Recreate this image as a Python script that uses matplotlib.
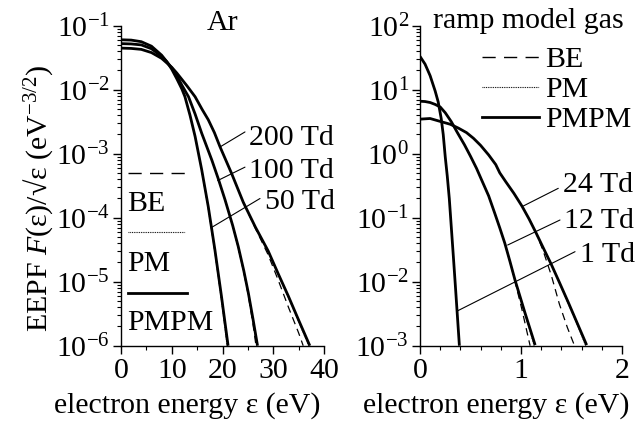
import numpy as np
import matplotlib
matplotlib.use('Agg')
import matplotlib.pyplot as plt
from matplotlib.lines import Line2D
from matplotlib.ticker import LogLocator, MultipleLocator, NullFormatter

plt.rcParams['font.family'] = ['Liberation Serif', 'DejaVu Serif']
plt.rcParams['mathtext.fontset'] = 'custom'
plt.rcParams['mathtext.rm'] = 'Liberation Serif'
plt.rcParams['mathtext.it'] = 'Liberation Serif:italic'
plt.rcParams['font.size'] = 21.5

# ---- Ar : energy (eV) and log10 of EEPF (eV^-3/2) ----
ar50_e  = [0, 2, 4, 6, 8, 9, 10, 11, 12, 12.6, 13.6, 14.6, 15.9, 17.2, 18.5, 19.8, 21.1]
ar50_lg = [-1.22, -1.225, -1.25, -1.32, -1.46, -1.56, -1.68, -1.83, -1.99, -2.11, -2.40,
           -2.73, -3.25, -3.83, -4.50, -5.23, -6.0]
ar100_e  = [0, 2, 4, 6, 8, 9, 10, 11, 12, 13.3, 14.6, 15.9, 17.9, 19.2, 20.5, 22, 23.1,
            24.2, 25.1, 26, 26.9]
ar100_lg = [-1.28, -1.285, -1.30, -1.36, -1.48, -1.56, -1.66, -1.78, -1.93, -2.11, -2.38,
            -2.68, -3.10, -3.40, -3.72, -4.12, -4.45, -4.83, -5.18, -5.58, -6.0]
ar200_e  = [0, 2, 4, 6, 8, 10, 11, 12, 13, 14.6, 16, 17.2, 18.4, 19.5, 21.8, 24.1, 26.5,
            29, 31, 33, 35, 37.2]
ar200_lg = [-1.35, -1.355, -1.37, -1.42, -1.51, -1.65, -1.74, -1.84, -1.94, -2.11, -2.31,
            -2.47, -2.67, -2.89, -3.31, -3.76, -4.15, -4.52, -4.88, -5.23, -5.60, -6.0]
# BE tails (where they separate from PMPM)
ar50_be_e  = [15.9, 17.2, 18.5, 19.8, 21.0]
ar50_be_lg = [-3.25, -3.84, -4.52, -5.26, -6.0]
ar100_be_e  = [22, 23.1, 24.2, 25.1, 26, 26.6]
ar100_be_lg = [-4.12, -4.46, -4.85, -5.22, -5.66, -6.0]
ar200_be_e  = [24.1, 26.5, 29, 31, 33, 35, 35.9]
ar200_be_lg = [-3.76, -4.17, -4.58, -4.98, -5.40, -5.80, -6.0]
# PM tails
ar50_pm_e  = [15.9, 17.2, 18.5, 19.8, 20.9]
ar50_pm_lg = [-3.26, -3.86, -4.54, -5.30, -6.0]
ar100_pm_e  = [22, 23.1, 24.2, 25.1, 26, 26.8]
ar100_pm_lg = [-4.13, -4.47, -4.85, -5.20, -5.61, -6.0]
ar200_pm_e  = [24.1, 26.5, 29, 31, 33, 35, 37.0]
ar200_pm_lg = [-3.76, -4.15, -4.53, -4.89, -5.25, -5.62, -6.0]

# ---- ramp model gas ----
r1_e  = [0, 0.05, 0.1, 0.15, 0.18, 0.21, 0.23, 0.25, 0.27, 0.29, 0.31, 0.33, 0.35, 0.37, 0.39]
r1_lg = [1.52, 1.40, 1.22, 0.98, 0.81, 0.55, 0.30, -0.05, -0.35, -0.70, -1.15, -1.60,
         -2.06, -2.53, -3.0]
r12_e  = [0, 0.05, 0.1, 0.15, 0.2, 0.25, 0.31, 0.37, 0.44, 0.5, 0.56, 0.61, 0.68, 0.74,
          0.79, 0.84, 0.89, 0.94, 0.99, 1.04, 1.09, 1.14]
r12_lg = [0.82, 0.815, 0.80, 0.77, 0.73, 0.64, 0.50, 0.33, 0.14, -0.04, -0.23, -0.41,
          -0.66, -0.93, -1.16, -1.40, -1.68, -1.97, -2.23, -2.49, -2.74, -2.99]
r24_e  = [0, 0.05, 0.1, 0.21, 0.3, 0.38, 0.46, 0.53, 0.6, 0.68, 0.75, 0.79, 0.85, 0.93,
          1.01, 1.08, 1.15, 1.22, 1.30, 1.38, 1.47, 1.56, 1.65]
r24_lg = [0.54, 0.545, 0.55, 0.50, 0.46, 0.40, 0.33, 0.24, 0.13, -0.02, -0.17, -0.30,
          -0.44, -0.62, -0.82, -1.02, -1.24, -1.47, -1.73, -2.01, -2.33, -2.66, -2.99]
r12_be_e  = [0.84, 0.89, 0.94, 1.01, 1.05, 1.09]
r12_be_lg = [-1.40, -1.68, -1.99, -2.44, -2.72, -3.0]
r24_be_e  = [1.08, 1.15, 1.22, 1.30, 1.38, 1.46, 1.53]
r24_be_lg = [-1.02, -1.24, -1.52, -1.90, -2.35, -2.72, -3.0]
r12_pm_e  = [0.94, 0.99, 1.04, 1.09, 1.13]
r12_pm_lg = [-1.97, -2.24, -2.51, -2.77, -3.0]
r24_pm_e  = [1.38, 1.47, 1.56, 1.64]
r24_pm_lg = [-2.02, -2.35, -2.68, -3.0]

fig = plt.figure(figsize=(6.37, 4.23), dpi=100)
W, H = 637.0, 423.0
ax1 = fig.add_axes([121 / W, 1 - 345.7 / H, 203 / W, 320 / H])
ax2 = fig.add_axes([420 / W, 1 - 345.7 / H, 202 / W, 320 / H])

solid = dict(color='k', lw=2.0, solid_capstyle='butt')
dash = dict(color='k', lw=0.9, dashes=(6, 4))
dot = dict(color='k', lw=0.8, dashes=(0.8, 0.8))


def lg(v):
    return 10 ** np.array(v)


for e, v in [(ar50_e, ar50_lg), (ar100_e, ar100_lg), (ar200_e, ar200_lg)]:
    ax1.plot(e, lg(v), **solid)
for e, v in [(ar50_pm_e, ar50_pm_lg), (ar100_pm_e, ar100_pm_lg), (ar200_pm_e, ar200_pm_lg)]:
    ax1.plot(e, lg(v), **dot)
for e, v in [(ar50_be_e, ar50_be_lg), (ar100_be_e, ar100_be_lg), (ar200_be_e, ar200_be_lg)]:
    ax1.plot(e, lg(v), **dash)

for e, v in [(r1_e, r1_lg), (r12_e, r12_lg), (r24_e, r24_lg)]:
    ax2.plot(e, lg(v), **solid)
for e, v in [(r12_pm_e, r12_pm_lg), (r24_pm_e, r24_pm_lg)]:
    ax2.plot(e, lg(v), **dot)
for e, v in [(r12_be_e, r12_be_lg), (r24_be_e, r24_be_lg)]:
    ax2.plot(e, lg(v), **dash)

for ax in (ax1, ax2):
    ax.set_yscale('log')
    ax.spines['top'].set_visible(False)
    ax.spines['right'].set_visible(False)
    ax.spines['left'].set_linewidth(1.0)
    ax.spines['bottom'].set_linewidth(1.0)
    ax.yaxis.set_major_locator(LogLocator(base=10, numticks=12))
    ax.yaxis.set_minor_locator(LogLocator(base=10, subs=np.arange(2, 10), numticks=12))
    ax.yaxis.set_minor_formatter(NullFormatter())
    ax.tick_params(which='major', direction='out', length=6, width=1.0, pad=2)
    ax.tick_params(which='minor', direction='out', length=3, width=0.8)
    ax.tick_params(axis='x', which='major', pad=3)
    ax.patch.set_visible(False)

ax1.set_xlim(0, 40)
ax1.set_ylim(1e-6, 1e-1)
ax1.xaxis.set_major_locator(MultipleLocator(10))
ax1.xaxis.set_minor_locator(MultipleLocator(5))
ax2.set_xlim(0, 2)
ax2.set_ylim(1e-3, 1e2)
ax2.xaxis.set_major_locator(MultipleLocator(1))
ax2.xaxis.set_minor_locator(MultipleLocator(0.2))

# pointer lines and labels
ptr = dict(arrowstyle='-', lw=0.8, color='k', shrinkA=0, shrinkB=0)
for xy, end, txt, tx, ty in [((19.5, 10 ** -2.895), (24.43, 10 ** -2.66), '200 Td', 25.3, 10 ** -2.86),
                             ((19.05, 10 ** -3.42), (24.43, 10 ** -3.21), '100 Td', 25.2, 10 ** -3.38),
                             ((17.9, 10 ** -4.15), (27.39, 10 ** -3.70), '50 Td', 28.4, 10 ** -3.87)]:
    ax1.annotate('', xy=xy, xytext=end, arrowprops=ptr, annotation_clip=False)
    ax1.text(tx, ty, txt, ha='left', va='baseline', clip_on=False)

for xy, end, txt, tx, ty in [((1.023, 10 ** -0.817), (1.369, 10 ** -0.541), '24 Td', 1.42, 10 ** -0.60),
                             ((0.868, 10 ** -1.427), (1.386, 10 ** -1.036), '12 Td', 1.43, 10 ** -1.16),
                             ((0.366, 10 ** -2.46), (1.535, 10 ** -1.531), '1 Td', 1.58, 10 ** -1.69)]:
    ax2.annotate('', xy=xy, xytext=end, arrowprops=ptr, annotation_clip=False)
    ax2.text(tx, ty, txt, ha='left', va='baseline', clip_on=False)

# left-panel key: line above its label
tr = ax1.transAxes
ax1.plot([0.033, 0.333], [0.541, 0.541], transform=tr, color='k', lw=1.0, dashes=(9.5, 6))
ax1.plot([0.033, 0.317], [0.354, 0.354], transform=tr, **dot)
ax1.plot([0.033, 0.327], [0.166, 0.166], transform=tr, color='k', lw=2.0)
ax1.text(0.03, 0.422, 'BE', transform=tr, ha='left', va='baseline')
ax1.text(0.03, 0.233, 'PM', transform=tr, ha='left', va='baseline')
ax1.text(0.03, 0.049, 'PMPM', transform=tr, ha='left', va='baseline')

# right-panel legend
handles = [Line2D([], [], color='k', lw=1.0, dashes=(9.5, 6)),
           Line2D([], [], color='k', lw=0.8, dashes=(0.8, 0.8)),
           Line2D([], [], color='k', lw=2.0)]
ax2.legend(handles, ['BE', 'PM', 'PMPM'], loc='upper left', bbox_to_anchor=(0.305, 0.935),
           frameon=False, borderpad=0, borderaxespad=0, handlelength=1.93,
           handletextpad=0.2, labelspacing=0.1)

fig.text(223 / W, 1 - 30 / H, 'Ar', ha='center', va='baseline')
fig.text(528 / W, 1 - 28.5 / H, 'ramp model gas', ha='center', va='baseline')
fig.text(187 / W, 1 - 413 / H, 'electron energy ε (eV)', ha='center', va='baseline')
fig.text(496 / W, 1 - 413 / H, 'electron energy ε (eV)', ha='center', va='baseline')
fig.text(38 / W, 1 - 198 / H, 'EEPF $F$(ε)/√ε (eV$^{-3/2}$)', rotation=90,
         ha='center', va='center')

fig.savefig('out.png', dpi=100)
